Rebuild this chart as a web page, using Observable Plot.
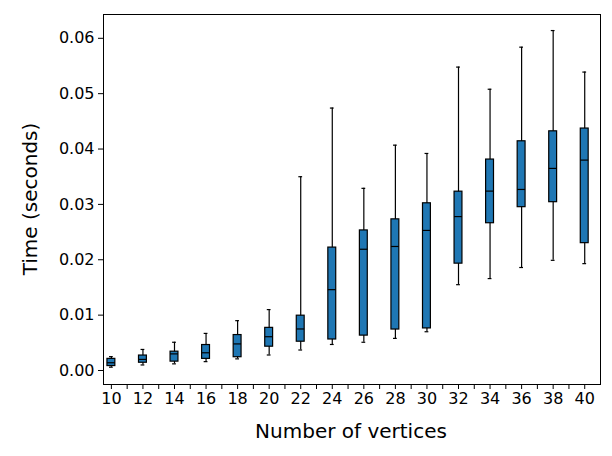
<!DOCTYPE html>
<html><head><meta charset="utf-8">
<script src="https://cdn.jsdelivr.net/npm/d3@7"></script>
<script src="https://cdn.jsdelivr.net/npm/@observablehq/plot@0.6"></script>
<style>body{margin:0;background:#fff}</style>
</head><body><div id="c"></div>
<script>
const vertices = [10,12,14,16,18,20,22,24,26,28,30,32,34,36,38,40];
const whiskerLow = [0.0006,0.0010,0.0012,0.0016,0.0021,0.0028,0.0037,0.0047,0.0051,0.0058,0.0070,0.0155,0.0166,0.0186,0.0199,0.0193];
const q1 = [0.0008,0.0014,0.0016,0.0021,0.0024,0.0043,0.0052,0.0056,0.0063,0.0074,0.0076,0.0193,0.0266,0.0295,0.0304,0.0230];
const median = [0.0014,0.0020,0.0030,0.0032,0.0048,0.0061,0.0075,0.0146,0.0219,0.0224,0.0253,0.0278,0.0324,0.0327,0.0365,0.0380];
const q3 = [0.0021,0.0027,0.0034,0.0046,0.0064,0.0077,0.0099,0.0222,0.0253,0.0273,0.0302,0.0323,0.0381,0.0414,0.0432,0.0437];
const whiskerHigh = [0.0025,0.0038,0.0051,0.0067,0.0090,0.0110,0.0350,0.0474,0.0329,0.0407,0.0392,0.0548,0.0508,0.0584,0.0614,0.0539];
const yTicks = [0,0.01,0.02,0.03,0.04,0.05,0.06];
const xTicks = d3.range(10,41);
const data = vertices.map((v,i)=>({v,lo:whiskerLow[i],q1:q1[i],med:median[i],q3:q3[i],hi:whiskerHigh[i]}));
const hw = 0.25, cw = 0.12;
const chart = Plot.plot({
  width:612, height:456, marginLeft:103, marginRight:12, marginTop:14, marginBottom:72,
  style:{fontFamily:"DejaVu Sans", color:"#000"},
  x:{domain:[9.5,41], ticks:xTicks, tickFormat:d=>d%2===0?d:"", label:null, tickSize:5, tickPadding:3},
  y:{domain:[-0.00253,0.0643], ticks:yTicks, tickFormat:d3.format(".2f"), label:null, tickSize:5, tickPadding:4},
  marks:[
    Plot.ruleX(data,{x:"v",y1:"lo",y2:"hi",stroke:"#000",strokeWidth:1.2}),
    Plot.ruleY(data,{y:"lo",x1:d=>d.v-cw,x2:d=>d.v+cw,stroke:"#000",strokeWidth:1.2}),
    Plot.ruleY(data,{y:"hi",x1:d=>d.v-cw,x2:d=>d.v+cw,stroke:"#000",strokeWidth:1.2}),
    Plot.rect(data,{x1:d=>d.v-hw,x2:d=>d.v+hw,y1:"q1",y2:"q3",fill:"#1f77b4",stroke:"#000",strokeWidth:1.2}),
    Plot.ruleY(data,{y:"med",x1:d=>d.v-hw,x2:d=>d.v+hw,stroke:"#000",strokeWidth:1.2}),
    Plot.frame({stroke:"#000"})
  ]
});
const svg = d3.select(chart);
svg.selectAll("g[aria-label$='tick label'] text").style("font-size","16px");
svg.append("text").attr("x",351).attr("y",438).attr("text-anchor","middle")
  .style("font-size","20px").style("font-family","DejaVu Sans").text("Number of vertices");
svg.append("text").attr("transform","translate(37,199) rotate(-90)").attr("text-anchor","middle")
  .style("font-size","20px").style("font-family","DejaVu Sans").text("Time (seconds)");
document.getElementById("c").appendChild(chart);
</script></body></html>
